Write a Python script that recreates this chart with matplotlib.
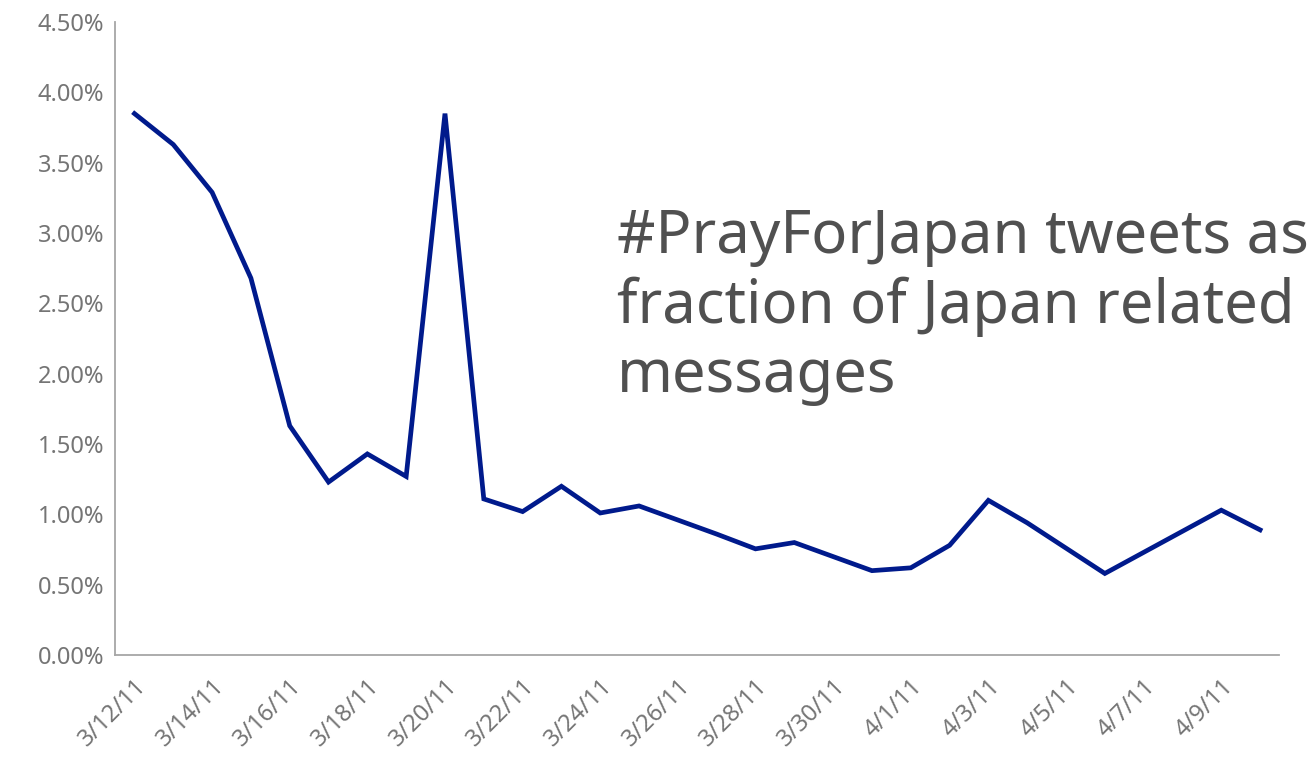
import matplotlib
matplotlib.use("Agg")
from matplotlib import pyplot as plt
from matplotlib.ticker import FuncFormatter, MultipleLocator
import numpy as np

# daily share of #PrayForJapan tweets among Japan related messages (percent)
dates = ["3/12/11", "3/13/11", "3/14/11", "3/15/11", "3/16/11", "3/17/11", "3/18/11",
         "3/19/11", "3/20/11", "3/21/11", "3/22/11", "3/23/11", "3/24/11", "3/25/11",
         "3/26/11", "3/27/11", "3/28/11", "3/29/11", "3/30/11", "3/31/11", "4/1/11",
         "4/2/11", "4/3/11", "4/4/11", "4/5/11", "4/6/11", "4/7/11", "4/8/11",
         "4/9/11", "4/10/11"]
share = [3.85, 3.63, 3.29, 2.68, 1.63, 1.23, 1.43, 1.27, 3.85, 1.11, 1.02, 1.20,
         1.01, 1.06, 0.96, 0.86, 0.755, 0.80, 0.70, 0.60, 0.62, 0.78, 1.10, 0.94,
         0.76, 0.58, 0.73, 0.88, 1.03, 0.89]
title = "#PrayForJapan tweets as\nfraction of Japan related\nmessages"

plt.rcParams['font.family'] = ['Noto Sans', 'DejaVu Sans']
grey_axis = "#a6a6a6"
grey_text = "#757575"

fig = plt.figure(figsize=(13.15, 7.57), dpi=100)
ax = fig.add_axes([0.0875, 0.1347, 0.8855, 0.836])

x = np.arange(len(dates))
ax.plot(x, share, color="#001a8c", linewidth=3.4, solid_joinstyle="miter")

ax.set_xlim(-0.5, len(dates) - 0.5)
ax.set_ylim(0, 4.5)
ax.yaxis.set_major_locator(MultipleLocator(0.5))
ax.yaxis.set_major_formatter(FuncFormatter(lambda v, p: "%.2f%%" % v))

ax.set_xticks(x[::2])
ax.set_xticklabels(dates[::2], rotation=45, ha="right", rotation_mode="anchor")

for side in ["top", "right"]:
    ax.spines[side].set_visible(False)
for side in ["left", "bottom"]:
    ax.spines[side].set_color(grey_axis)
    ax.spines[side].set_linewidth(1.3)

ax.tick_params(axis="both", length=0, labelsize=17, colors=grey_text)
ax.tick_params(axis="y", pad=8)
ax.tick_params(axis="x", pad=14)

fig.text(0.469, 0.726, title, fontsize=43, color="#505050", va="top", ha="left",
         linespacing=1.2)

plt.savefig("out.png", dpi=100)
plt.close()
